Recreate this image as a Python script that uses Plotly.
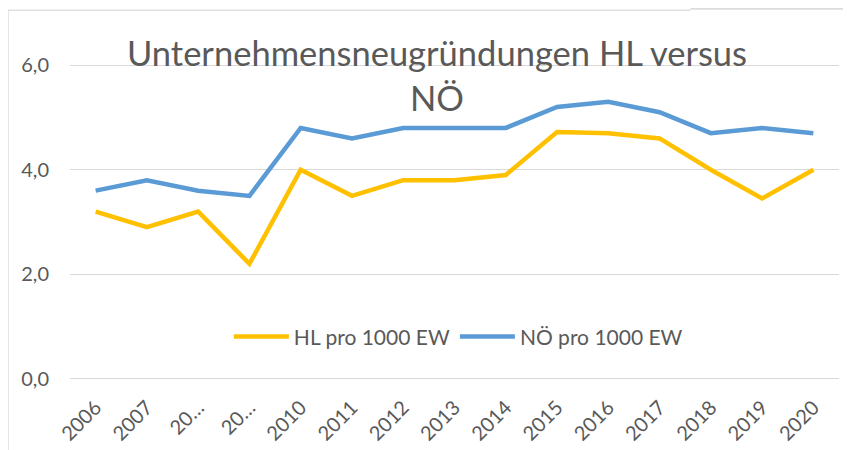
import plotly.graph_objects as go

YEARS = ["2006", "2007", "2008", "2009", "2010", "2011", "2012", "2013",
         "2014", "2015", "2016", "2017", "2018", "2019", "2020"]
TICK_LABELS = ["2006", "2007", "20…", "20…", "2010", "2011", "2012", "2013",
               "2014", "2015", "2016", "2017", "2018", "2019", "2020"]
HL_PER_1000 = [3.2, 2.9, 3.2, 2.2, 4.0, 3.5, 3.8, 3.8, 3.9, 4.72, 4.7, 4.6, 4.0, 3.45, 4.0]
NOE_PER_1000 = [3.6, 3.8, 3.6, 3.5, 4.8, 4.6, 4.8, 4.8, 4.8, 5.2, 5.3, 5.1, 4.7, 4.8, 4.7]
Y_TICKS = [0, 2, 4, 6]

FONT = "Lato"
GREY = "#595959"

fig = go.Figure()
fig.add_trace(go.Scatter(x=YEARS, y=HL_PER_1000, mode="lines", name="HL pro 1000 EW",
                         line=dict(color="#FFC000", width=4.5)))
fig.add_trace(go.Scatter(x=YEARS, y=NOE_PER_1000, mode="lines", name="NÖ pro 1000 EW",
                         line=dict(color="#5B9BD5", width=4.5)))

fig.update_xaxes(
    type="category", tickvals=YEARS, ticktext=TICK_LABELS, tickangle=-45,
    range=[-0.5, len(YEARS) - 0.5], automargin=False,
    showgrid=False, showline=False, ticks="outside", ticklen=3, tickcolor="rgba(0,0,0,0)",
    tickfont=dict(family=FONT, size=20, color=GREY),
)
# range padded a little so the 0 and 6 grid lines are not dropped at the edges
fig.update_yaxes(
    range=[-0.1, 6.1], tickvals=Y_TICKS, tickformat=".1f", automargin=False,
    gridcolor="#d9d9d9", gridwidth=1.3, zeroline=False, showline=False,
    ticks="outside", ticklen=16, tickcolor="rgba(0,0,0,0)",
    tickfont=dict(family=FONT, size=20, color=GREY),
)

fig.add_annotation(
    text="Unternehmensneugründungen HL versus<br>NÖ",
    xref="paper", yref="paper", x=0.4775, y=1.092, xanchor="center", yanchor="top",
    showarrow=False, align="center",
    font=dict(family=FONT, size=34.5, color=GREY),
)

# chart frame
fig.add_shape(type="line", xref="paper", yref="paper", x0=-0.0807, x1=0.8067, y0=1.1535, y1=1.1535,
              line=dict(color="#e0e0e0", width=1.5))
fig.add_shape(type="line", xref="paper", yref="paper", x0=0.8067, x1=1.02, y0=1.158, y1=1.158,
              line=dict(color="#dcdcdc", width=2))
fig.add_shape(type="line", xref="paper", yref="paper", x0=-0.0807, x1=-0.0807, y0=1.1535, y1=-0.3,
              line=dict(color="#d9d9d9", width=1.5))

# page body keeps an 8px margin, so the figure is laid out 8px smaller
fig.update_layout(
    width=843, height=442,
    margin=dict(l=62, r=12.4, t=51.8, b=65.8),
    separators=", ",
    plot_bgcolor="white", paper_bgcolor="white",
    font=dict(family=FONT, color=GREY),
    showlegend=True,
    legend=dict(orientation="h", x=0.505, y=0.1455, xanchor="center", yanchor="middle",
                font=dict(family=FONT, size=21, color=GREY),
                itemwidth=55, bgcolor="rgba(0,0,0,0)"),
)

fig.write_html("out.html")
